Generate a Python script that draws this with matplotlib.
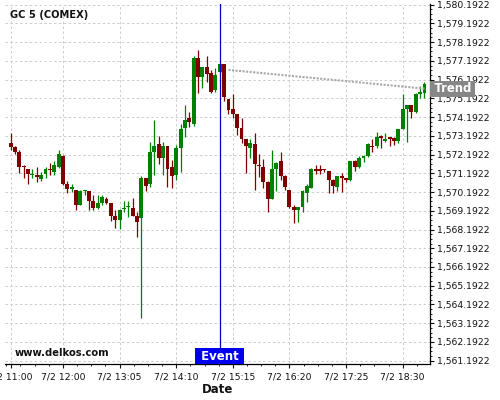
import matplotlib
matplotlib.use('Agg')
import matplotlib.pyplot as plt
import matplotlib.dates as mdates
import matplotlib.transforms as mtrans
from matplotlib.ticker import FixedLocator, FuncFormatter
import pandas as pd

# ---------------- data ----------------
title = "GC 5 (COMEX)"
watermark = "www.delkos.com"
start_time = "2019-07-02 11:00"
bar_minutes = 5

opens = [1572.81, 1572.57, 1572.35, 1571.58, 1571.40, 1571.10, 1571.10, 1570.87, 1571.14, 1571.44,
         1571.24, 1571.55, 1572.12, 1570.62, 1570.33, 1570.28, 1569.52, 1570.25, 1570.25, 1569.73,
         1569.36, 1569.61, 1569.82, 1569.61, 1568.91, 1568.70, 1569.27, 1569.41, 1569.34, 1568.91,
         1568.82, 1570.92, 1570.62, 1572.33, 1572.75, 1571.99, 1572.65, 1571.52, 1571.11, 1572.54,
         1573.61, 1574.14, 1573.84, 1577.35, 1576.35, 1576.85, 1576.54, 1575.64, 1576.58, 1577.03,
         1575.16, 1574.63, 1574.36, 1573.59, 1573.02, 1572.56, 1572.76, 1571.62, 1571.53, 1570.75,
         1569.84, 1571.42, 1571.85, 1571.07, 1570.30, 1569.37, 1569.23, 1569.37, 1570.16, 1570.42,
         1571.40, 1571.40, 1571.40, 1571.32, 1570.83, 1570.44, 1571.05, 1570.92, 1570.83, 1571.85,
         1571.55, 1572.03, 1572.13, 1572.67, 1572.67, 1573.18, 1572.93, 1573.13, 1573.06, 1572.94,
         1573.56, 1574.62, 1574.84, 1574.48, 1575.43, 1575.46]
highs = [1573.33, 1572.67, 1572.46, 1571.64, 1571.44, 1571.40, 1571.51, 1571.28, 1571.51, 1571.73,
         1571.85, 1572.42, 1572.17, 1570.80, 1570.60, 1570.30, 1570.30, 1570.30, 1570.27, 1570.05,
         1570.02, 1570.02, 1569.93, 1569.63, 1569.23, 1569.27, 1569.70, 1569.73, 1569.89, 1569.14,
         1571.05, 1570.94, 1572.85, 1574.02, 1573.20, 1572.88, 1572.67, 1571.90, 1572.70, 1573.80,
         1574.82, 1574.46, 1577.47, 1577.76, 1576.88, 1577.45, 1576.70, 1576.80, 1577.03, 1577.05,
         1575.18, 1575.41, 1574.38, 1574.12, 1573.04, 1573.02, 1573.33, 1572.20, 1571.94, 1570.77,
         1572.42, 1571.81, 1572.31, 1571.09, 1570.32, 1569.50, 1569.39, 1570.30, 1570.60, 1571.46,
         1571.64, 1571.64, 1571.42, 1571.34, 1570.87, 1571.05, 1571.19, 1570.96, 1571.85, 1571.90,
         1572.12, 1572.17, 1572.79, 1573.02, 1573.42, 1573.24, 1573.33, 1573.15, 1573.15, 1573.58,
         1575.43, 1574.86, 1574.86, 1575.46, 1575.85, 1576.09]
lows = [1572.44, 1572.21, 1571.23, 1570.96, 1570.60, 1570.92, 1570.71, 1570.78, 1570.96, 1571.10,
        1571.10, 1571.46, 1570.57, 1570.12, 1570.21, 1569.23, 1569.50, 1570.02, 1569.23, 1569.23,
        1569.30, 1569.50, 1569.55, 1568.66, 1568.29, 1568.20, 1569.11, 1568.88, 1568.90, 1567.77,
        1563.45, 1570.25, 1570.48, 1571.10, 1571.69, 1571.10, 1570.48, 1570.39, 1570.83, 1571.28,
        1573.11, 1573.68, 1573.71, 1575.49, 1575.76, 1576.06, 1575.46, 1575.51, 1576.55, 1575.05,
        1574.34, 1574.13, 1573.24, 1572.79, 1571.19, 1571.99, 1570.30, 1571.01, 1570.43, 1569.15,
        1569.82, 1570.25, 1570.82, 1570.30, 1569.32, 1568.56, 1568.61, 1569.14, 1569.67, 1570.39,
        1571.14, 1571.14, 1571.28, 1570.16, 1570.12, 1570.26, 1570.21, 1570.74, 1570.80, 1571.29,
        1571.46, 1571.81, 1572.08, 1572.35, 1572.53, 1572.53, 1572.88, 1572.65, 1572.70, 1572.79,
        1573.54, 1572.88, 1574.13, 1574.39, 1575.23, 1575.23]
closes = [1572.57, 1572.35, 1571.55, 1571.55, 1571.14, 1571.14, 1570.98, 1571.10, 1571.44, 1571.37,
          1571.64, 1572.21, 1570.64, 1570.33, 1570.44, 1569.52, 1570.25, 1570.28, 1569.73, 1569.36,
          1569.61, 1569.93, 1569.62, 1568.93, 1568.70, 1569.23, 1569.30, 1569.45, 1568.91, 1568.61,
          1570.92, 1570.53, 1572.33, 1572.65, 1571.99, 1572.65, 1571.42, 1571.06, 1572.54, 1573.55,
          1574.04, 1573.93, 1577.35, 1576.35, 1576.85, 1576.47, 1575.55, 1576.44, 1577.03, 1575.28,
          1574.57, 1574.36, 1573.59, 1573.02, 1572.67, 1572.81, 1571.67, 1571.57, 1570.75, 1569.84,
          1571.42, 1571.74, 1571.07, 1570.44, 1569.41, 1569.23, 1569.37, 1570.26, 1570.51, 1571.42,
          1571.33, 1571.33, 1571.35, 1570.83, 1570.51, 1571.05, 1570.92, 1570.83, 1571.85, 1571.55,
          1572.03, 1572.12, 1572.74, 1572.58, 1573.11, 1573.06, 1573.02, 1573.02, 1572.94, 1573.56,
          1574.62, 1574.84, 1574.48, 1575.43, 1575.55, 1575.94]

event_time = "2019-07-02 15:00"
event_label = "Event"
trend_times = ["2019-07-02 15:10", "2019-07-02 18:55"]
trend_prices = [1576.71, 1575.71]
trend_label = "Trend"

xtick_times = ["2019-07-02 11:00", "2019-07-02 12:00", "2019-07-02 13:05", "2019-07-02 14:10",
               "2019-07-02 15:15", "2019-07-02 16:20", "2019-07-02 17:25", "2019-07-02 18:30"]
xtick_labels = ["7/2 11:00", "7/2 12:00", "7/2 13:05", "7/2 14:10",
                "7/2 15:15", "7/2 16:20", "7/2 17:25", "7/2 18:30"]
ytick_values = [1561.1922, 1562.1922, 1563.1922, 1564.1922, 1565.1922, 1566.1922, 1567.1922,
                1568.1922, 1569.1922, 1570.1922, 1571.1922, 1572.1922, 1573.1922, 1574.1922,
                1575.1922, 1576.1922, 1577.1922, 1578.1922, 1579.1922, 1580.1922]
x_range = ["2019-07-02 10:53:30", "2019-07-02 19:01:40"]
y_range = [1561.0, 1580.21]

# ---------------- plot ----------------
up_color = '#008000'
down_color = '#800000'

fig = plt.figure(figsize=(5, 4), dpi=100)
ax = fig.add_axes([0.01, 0.08925, 0.8506, 0.9])

times = pd.date_range(start_time, periods=len(opens), freq=f'{bar_minutes}min')
x = mdates.date2num(times)
day_min = 1.0 / 1440.0
body_w = 4.5 * day_min

for xi, o, h, l, c in zip(x, opens, highs, lows, closes):
    col = up_color if c >= o else down_color
    ax.vlines(xi, l, h, color=col, linewidth=0.9, zorder=3)
    bottom = min(o, c)
    height = max(abs(c - o), 0.05)
    ax.bar(xi, height, bottom=bottom, width=body_w, color=col, linewidth=0, zorder=4)

# event line
ex = mdates.date2num(pd.Timestamp(event_time))
ax.axvline(ex, color='#0000cc', linewidth=0.9, zorder=5)
trans_ex = mtrans.blended_transform_factory(ax.transData, ax.transAxes)
ax.text(ex, 0.0225, " " + event_label + " ", transform=trans_ex, ha='center', va='center',
        color='white', fontsize=8.5, fontweight='bold', zorder=7,
        bbox=dict(boxstyle='square,pad=0.12', facecolor='#0000ee', edgecolor='none'))

# trend line
tx = mdates.date2num(pd.to_datetime(trend_times))
ax.plot(tx, trend_prices, color='#a8a8a8', linewidth=1.5, linestyle=(0, (1, 0.7)), zorder=6)
trans_tr = mtrans.blended_transform_factory(ax.transAxes, ax.transData)
ax.text(1.0035, trend_prices[-1], "\u2009" + trend_label + "\u2009", transform=trans_tr,
        ha='left', va='center', color='white', fontsize=8.4, fontweight='bold', zorder=7,
        clip_on=False,
        bbox=dict(boxstyle='square,pad=0.12', facecolor='#878787', edgecolor='none'))

# texts
ax.text(0.0118, 0.969, title, transform=ax.transAxes, ha='left', va='center',
        fontsize=7.1, fontweight='bold', color='#111111')
ax.text(0.0235, 0.030, watermark, transform=ax.transAxes, ha='left', va='center',
        fontsize=7.2, fontweight='bold', color='#111111', zorder=7)

ax.set_xlim(mdates.date2num(pd.to_datetime(x_range)))
ax.set_ylim(y_range)

# x ticks
xt = mdates.date2num(pd.to_datetime(xtick_times))
ax.xaxis.set_major_locator(FixedLocator(xt))
ax.set_xticklabels(xtick_labels)
step = 16.25 * day_min
minors = []
k = -4
while xt[1] + k * step < x[-1] + 10 * day_min:
    v = xt[1] + k * step
    if v > ax.get_xlim()[0] and all(abs(v - m) > 1 * day_min for m in xt):
        minors.append(v)
    k += 1
ax.xaxis.set_minor_locator(FixedLocator(minors))

# y ticks
ax.yaxis.tick_right()
ax.yaxis.set_major_locator(FixedLocator(ytick_values))
ax.yaxis.set_major_formatter(FuncFormatter(lambda v, p: f"{v:,.4f}"))
yminor = [v + d for v in ytick_values for d in (0.25, 0.5, 0.75) if v + d < y_range[1]]
ax.yaxis.set_minor_locator(FixedLocator(yminor))

ax.tick_params(axis='y', which='major', length=3, width=0.8, pad=1.5, labelsize=6.7, colors='#111111')
ax.tick_params(axis='y', which='minor', length=1.5, width=0.6)
ax.tick_params(axis='x', which='major', length=3, width=0.8, pad=3, labelsize=6.7, colors='#111111')
ax.tick_params(axis='x', which='minor', length=1.5, width=0.6)

ax.set_xlabel("Date", fontsize=8.5, fontweight='bold', labelpad=1, color='#111111')

for s in ('left', 'top'):
    ax.spines[s].set_visible(False)
for s in ('right', 'bottom'):
    ax.spines[s].set_linewidth(0.9)
    ax.spines[s].set_color('black')

ax.grid(True, which='major', color='#cccccc', linestyle=(0, (2.5, 2.5)), linewidth=0.7, zorder=0)
ax.set_axisbelow(True)

fig.savefig('out.png', dpi=100)
